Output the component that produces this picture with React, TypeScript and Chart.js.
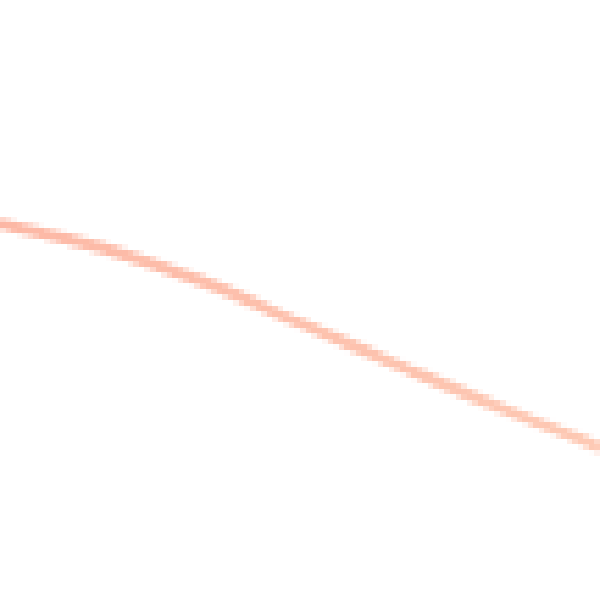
import { Chart, registerables } from 'chart.js';
import { useEffect, useRef } from 'react';

Chart.register(...registerables);

// x positions along the visible stretch, and the value read at each one
const positions: number[] = [0, 1, 2, 3, 4, 5, 6];
const values: number[] = [62.7, 58.8, 53.2, 46.2, 39.0, 32.0, 25.5];

const App = () => {
	const canvasRef = useRef<HTMLCanvasElement | null>(null);

	useEffect(() => {
		const canvas = canvasRef.current;
		if (!canvas) return;
		const ctx = canvas.getContext('2d');
		if (!ctx) return;

		const chart = new Chart(ctx, {
			type: 'line',
			data: {
				datasets: [
					{
						data: positions.map((x, i) => ({ x, y: values[i] })),
						borderColor: (c: any) => {
							const area = c.chart.chartArea;
							if (!area) return 'rgba(252, 170, 145, 1)';
							const g = c.chart.ctx.createLinearGradient(area.left, 0, area.right, 0);
							g.addColorStop(0, 'rgba(252, 160, 135, 0.75)');
							g.addColorStop(1, 'rgba(253, 178, 148, 0.7)');
							return g;
						},
						borderWidth: 11,
						pointRadius: 0,
						tension: 0.4,
						fill: false,
					},
				],
			},
			options: {
				animation: false,
				responsive: true,
				maintainAspectRatio: false,
				devicePixelRatio: 0.18,
				layout: { padding: 0 },
				plugins: {
					legend: { display: false },
					tooltip: { enabled: false },
				},
				scales: {
					x: { type: 'linear', min: 0, max: 6, display: false },
					y: { min: 0, max: 100, display: false },
				},
			},
		});

		return () => chart.destroy();
	}, []);

	return (
		<div style={{ position: 'fixed', left: 0, top: 0, width: 600, height: 600, background: '#fff' }}>
			<canvas ref={canvasRef} style={{ imageRendering: 'pixelated' }}></canvas>
		</div>
	);
};

export default App;
